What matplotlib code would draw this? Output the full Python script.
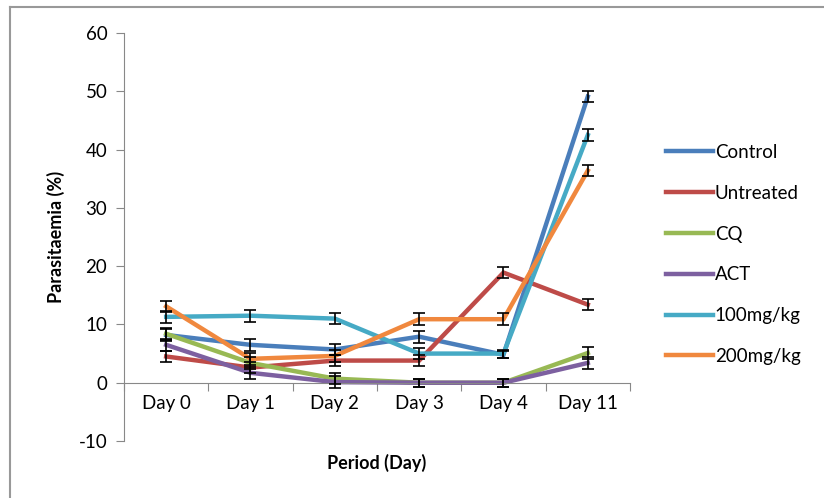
"""
Parasitaemia (%) over the treatment period for each group, with error bars.
"""

import matplotlib.pyplot as plt
from matplotlib.lines import Line2D

days = ["Day 0", "Day 1", "Day 2", "Day 3", "Day 4", "Day 11"]

control = [8.2, 6.5, 5.7, 7.9, 4.8, 49.1]
untreated = [4.5, 2.6, 3.8, 3.8, 18.9, 13.4]
cq = [8.4, 3.4, 0.7, 0.0, 0.0, 5.1]
act = [6.5, 1.7, 0.1, 0.0, 0.0, 3.4]
mg100 = [11.3, 11.5, 11.0, 5.0, 5.0, 42.5]
mg200 = [13.1, 4.1, 4.6, 10.9, 10.9, 36.4]

control_err = [1.0, 1.0, 1.0, 1.0, 0.6, 0.9]
untreated_err = [1.0, 1.0, 1.0, 1.0, 0.9, 1.0]
cq_err = [1.0, 1.0, 1.0, 0.7, 0.7, 1.0]
act_err = [1.0, 1.0, 1.0, 0.7, 0.7, 1.0]
mg100_err = [1.0, 1.0, 1.0, 1.0, 0.7, 1.0]
mg200_err = [1.0, 1.0, 1.0, 1.0, 1.0, 1.0]

labels = ["Control", "Untreated", "CQ", "ACT", "100mg/kg", "200mg/kg"]
colors = ["#4A7EBB", "#BE4B48", "#98B954", "#7D60A0", "#46AAC5", "#F0883E"]

series = [control, untreated, cq, act, mg100, mg200]
errors = [control_err, untreated_err, cq_err, act_err, mg100_err, mg200_err]

plt.rcParams["font.family"] = ["Lato", "DejaVu Sans"]
plt.rcParams["axes.unicode_minus"] = False

fig = plt.figure(figsize=(8.24, 4.98), dpi=100)
ax = fig.add_axes([0.1505, 0.1145, 0.614, 0.819])

x = list(range(len(days)))
handles = []
for vals, errs, lab, col in zip(series, errors, labels, colors):
    ax.errorbar(x, vals, yerr=errs, fmt="none", ecolor="black",
                elinewidth=1.2, capsize=4.5, capthick=1.2, zorder=3)
    (h,) = ax.plot(x, vals, color=col, lw=3.2, label=lab,
                   solid_joinstyle="miter", zorder=2)
    handles.append(h)

ax.set_xlim(-0.5, len(days) - 0.5)
ax.set_ylim(-10, 60)
ax.set_yticks(range(-10, 61, 10))

# category boundaries as major ticks, labels centred on the categories
ax.set_xticks([i - 0.5 for i in range(len(days) + 1)])
ax.set_xticklabels([])
ax.set_xticks(x, minor=True)
ax.set_xticklabels(days, minor=True)
ax.tick_params(axis="x", which="minor", length=0, pad=9, labelsize=13.5)
ax.tick_params(axis="x", which="major", length=6, color="#888888",
               direction="out")
ax.tick_params(axis="y", length=6, color="#888888", labelsize=13.5, pad=6)

for side in ["top", "right"]:
    ax.spines[side].set_visible(False)
ax.spines["bottom"].set_position(("data", 0))
ax.spines["bottom"].set_color("#888888")
ax.spines["left"].set_color("#888888")

ax.set_ylabel("Parasitaemia (%)", fontweight="bold", fontsize=13,
              labelpad=10)
fig.text(0.4575, 0.07, "Period (Day)", fontweight="bold", fontsize=13,
         ha="center", va="center")

fig.legend(handles=handles, loc="upper left", bbox_to_anchor=(0.799, 0.726),
           frameon=False, fontsize=13.5, handlelength=2.5,
           handletextpad=0.1, labelspacing=1.27, borderaxespad=0)

# outer chart frame, only left and top edges visible
fig.add_artist(Line2D([10 / 824, 10 / 824], [0, 1 - 7 / 498],
                      transform=fig.transFigure, color="#999999", lw=1.5))
fig.add_artist(Line2D([10 / 824, 1], [1 - 7 / 498, 1 - 7 / 498],
                      transform=fig.transFigure, color="#999999", lw=1.5))

plt.savefig("out.png", dpi=100)
